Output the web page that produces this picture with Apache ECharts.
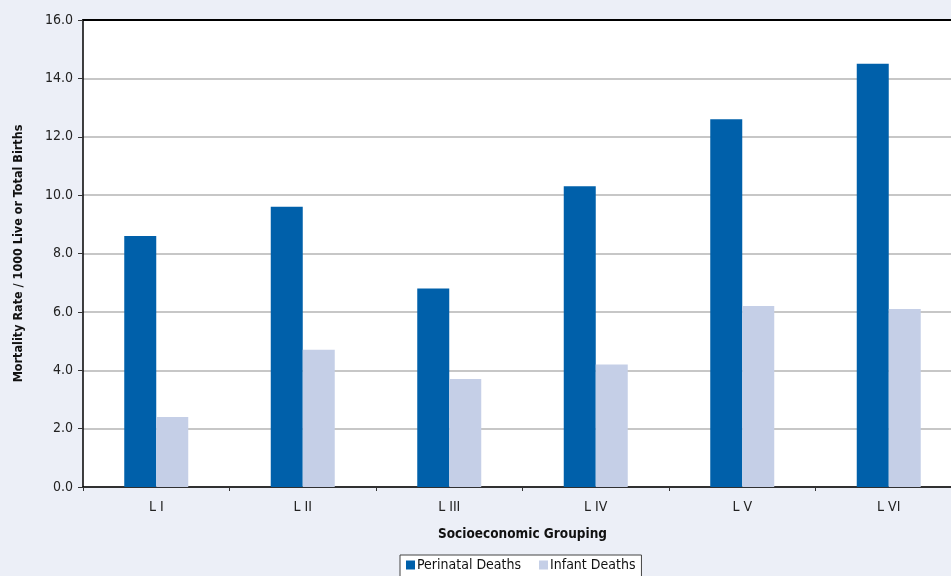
<!DOCTYPE html>
<html>
<head>
<meta charset="utf-8">
<script src="https://cdn.jsdelivr.net/npm/echarts@6/dist/echarts.min.js"></script>
<style>
  html, body { margin: 0; padding: 0; background: #eceff7; overflow: hidden; }
  /* plot area runs past the right edge in the original, so the canvas is a bit wider than the window */
  #chart { width: 962px; height: 576px; }
</style>
</head>
<body>
<div id="chart"></div>
<script>
  // data
  var categories = ['L I', 'L II', 'L III', 'L IV', 'L V', 'L VI'];
  var perinatal = [8.6, 9.6, 6.8, 10.3, 12.6, 14.5];
  var infant = [2.4, 4.7, 3.7, 4.2, 6.2, 6.1];

  var font = "'Liberation Sans Narrow', 'DejaVu Sans Condensed', 'Liberation Sans', sans-serif";

  var chart = echarts.init(document.getElementById('chart'));
  var option = {
      backgroundColor: '#eceff7',
      animation: false,
      textStyle: { fontFamily: font },
      grid: {
          left: 83,
          top: 20,
          bottom: 89,
          right: 0,
          show: true,
          backgroundColor: '#fff',
          borderWidth: 0
      },
      legend: {
          top: 555,
          left: 400,
          backgroundColor: '#fff',
          borderColor: '#444',
          borderWidth: 1,
          padding: [3, 6, 6, 6],
          itemWidth: 9,
          itemHeight: 9,
          itemGap: 18,
          icon: 'rect',
          textStyle: { fontFamily: font, fontSize: 14, color: '#111', padding: [0, 0, 0, -3] },
          data: ['Perinatal Deaths', 'Infant Deaths']
      },
      xAxis: [{
          type: 'category',
          data: categories,
          name: 'Socioeconomic Grouping',
          nameLocation: 'middle',
          nameGap: 40,
          nameTextStyle: { fontFamily: font, fontSize: 13.5, fontWeight: 'bold', color: '#111' },
          axisLine: { lineStyle: { color: '#000', width: 1.5 } },
          axisTick: { show: true, length: 4, lineStyle: { color: '#333' } },
          axisLabel: { fontFamily: font, fontSize: 14, color: '#222', margin: 13 }
      }, {
          type: 'category',
          data: categories,
          position: 'top',
          axisLine: { lineStyle: { color: '#000', width: 2 } },
          axisTick: { show: false },
          axisLabel: { show: false }
      }],
      yAxis: {
          type: 'value',
          min: 0,
          max: 16,
          interval: 2,
          name: 'Mortality Rate / 1000 Live or Total Births',
          nameLocation: 'middle',
          nameGap: 58,
          nameTextStyle: { fontFamily: font, fontSize: 12.5, fontWeight: 'bold', color: '#111' },
          axisLine: { show: true, lineStyle: { color: '#000', width: 1.5 } },
          axisTick: { show: true, length: 5, lineStyle: { color: '#333' } },
          axisLabel: {
              fontFamily: font, fontSize: 14, color: '#222', margin: 10,
              formatter: function (v) { return v.toFixed(1); }
          },
          splitLine: { lineStyle: { color: '#b4b4b4', width: 1.5 } }
      },
      series: [{
          name: 'Perinatal Deaths',
          type: 'bar',
          data: perinatal,
          barWidth: 32,
          barGap: '0%',
          itemStyle: { color: '#0060aa' }
      }, {
          name: 'Infant Deaths',
          type: 'bar',
          data: infant,
          barWidth: 32,
          itemStyle: { color: '#c5cfe7' }
      }]
  };
  chart.setOption(option);
</script>
</body>
</html>
